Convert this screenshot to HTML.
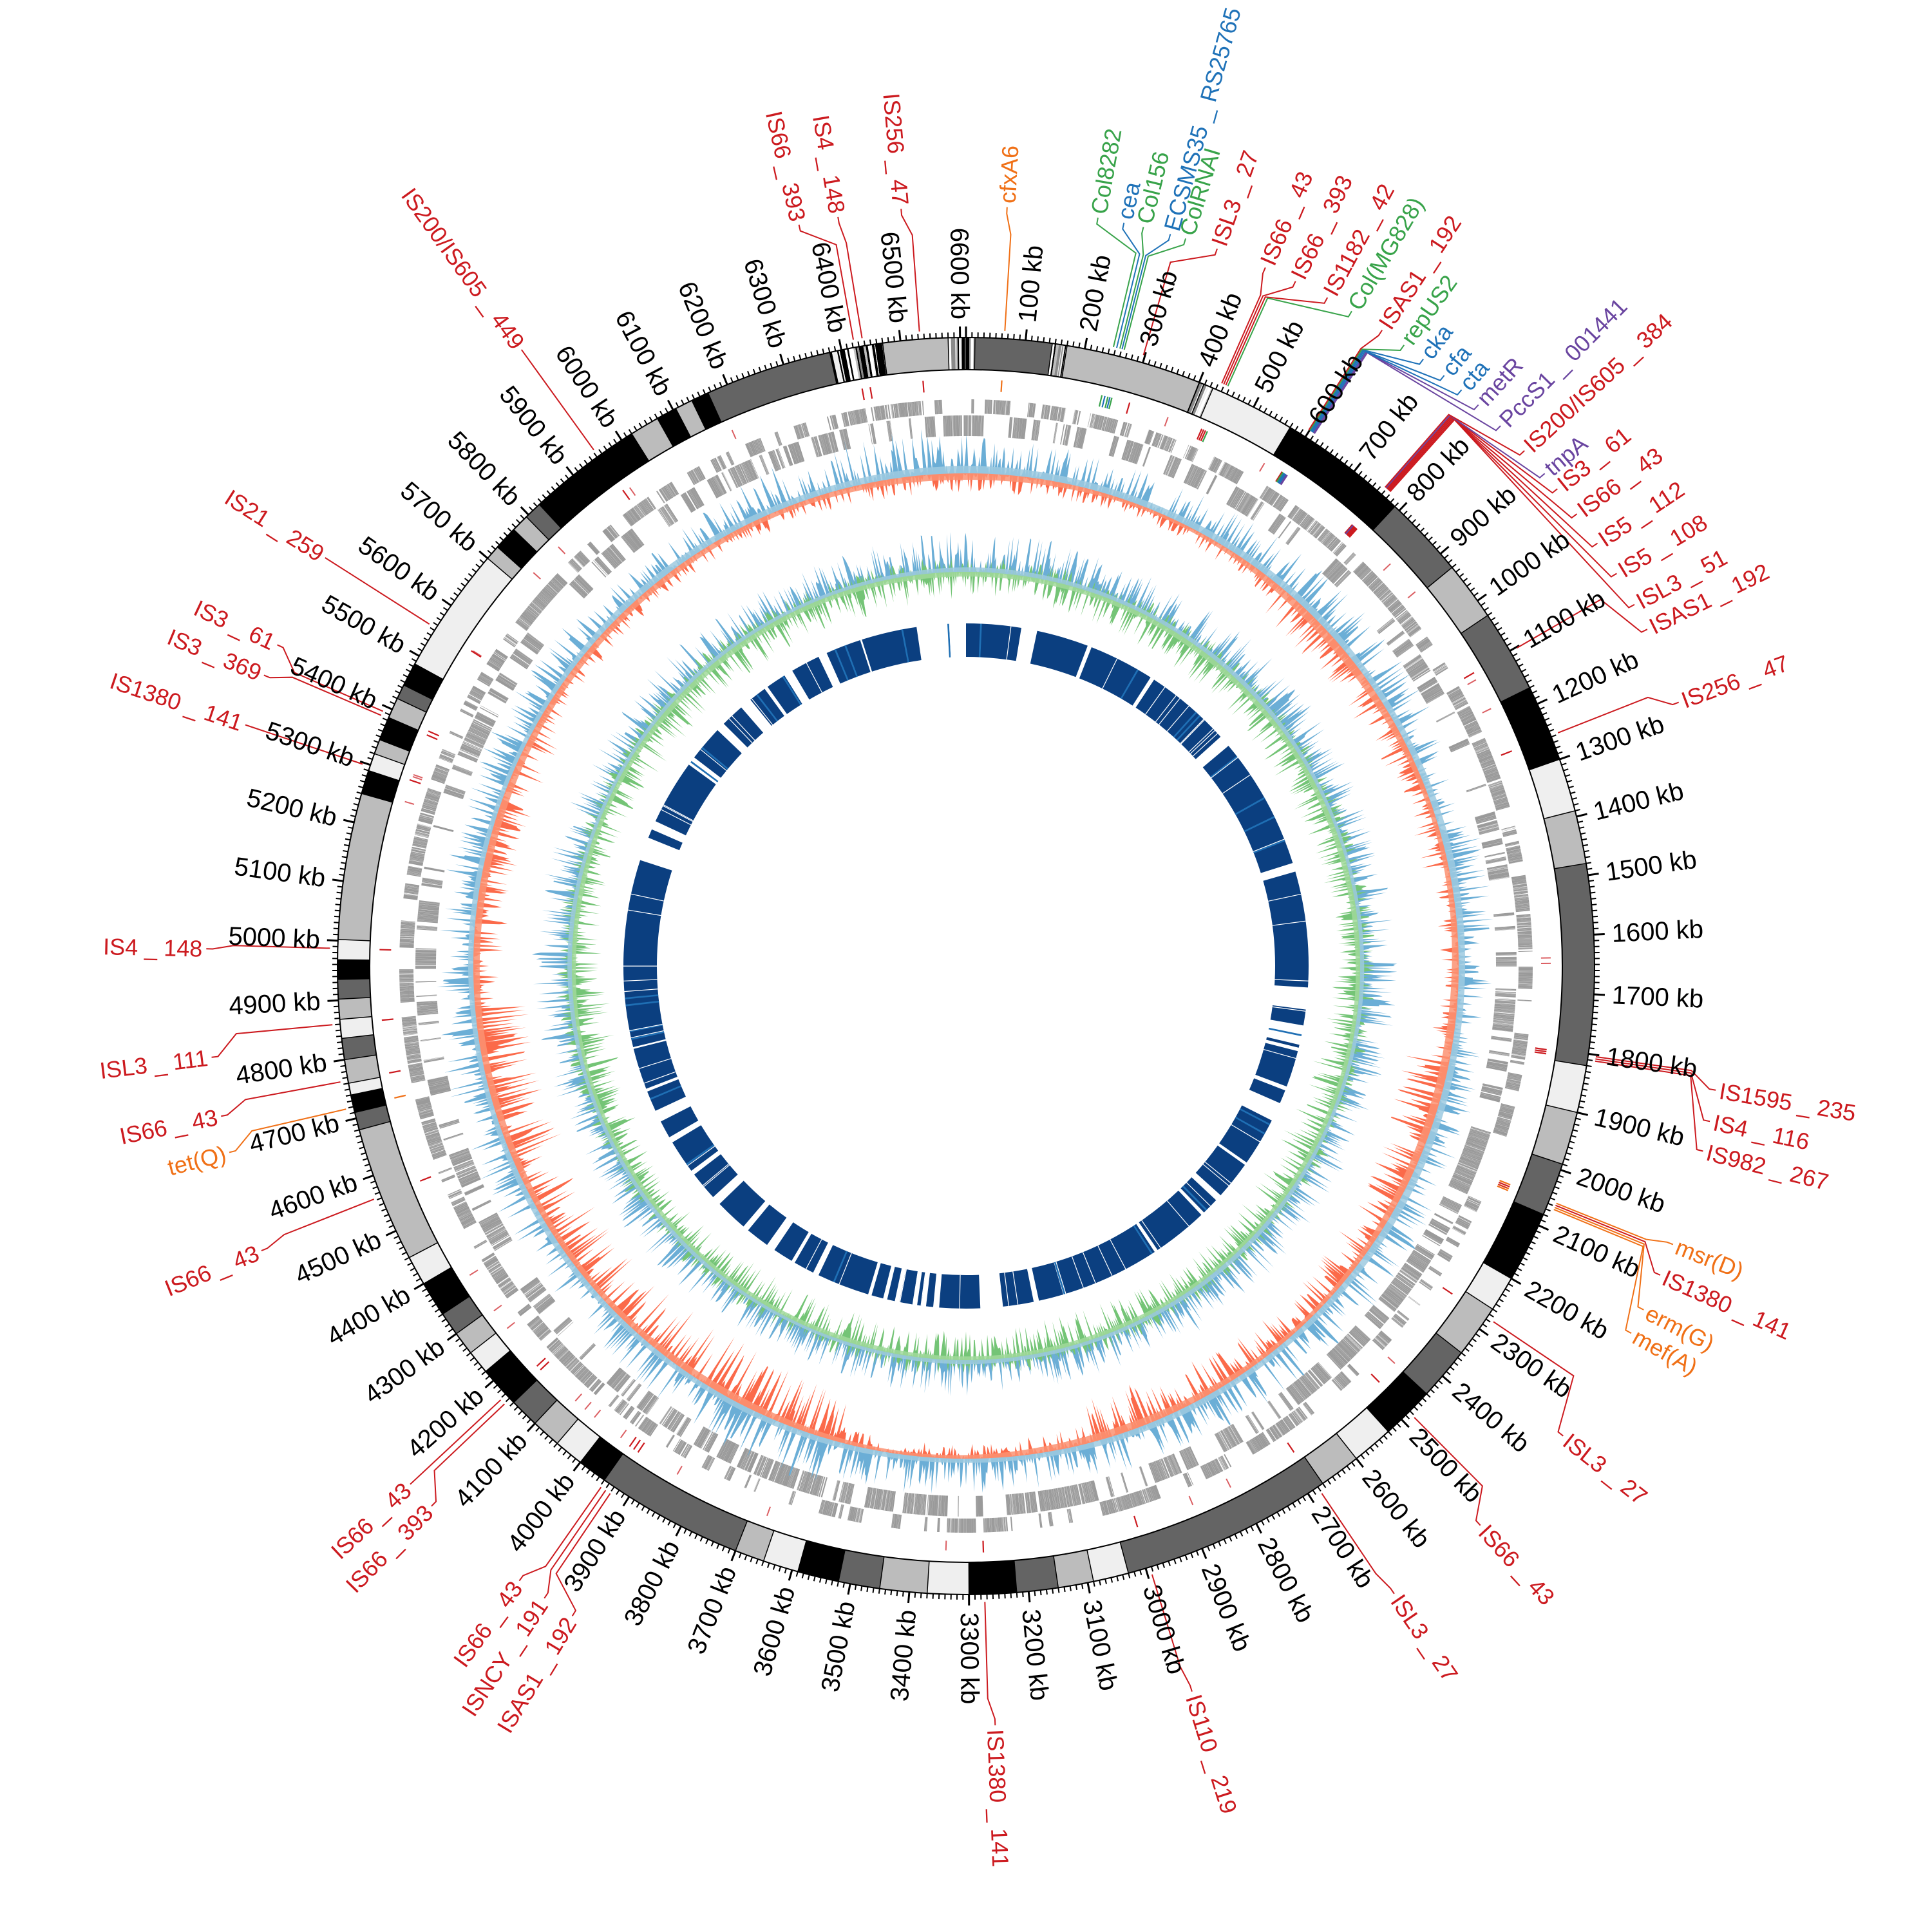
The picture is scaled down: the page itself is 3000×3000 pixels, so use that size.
<!DOCTYPE html>
<html><head><meta charset="utf-8">
<style>
html,body{margin:0;padding:0;background:#fff;}
svg{display:block;}
text{font-family:"Liberation Sans","DejaVu Sans",sans-serif;dominant-baseline:central;}
#ticks text{font-size:40px;fill:#000;}
#feat text{font-size:36px;}
</style></head>
<body>
<svg id="svg" xmlns="http://www.w3.org/2000/svg" width="3000" height="3000" viewBox="0 0 3000 3000">
<rect width="3000" height="3000" fill="#fff"/>
<g id="gfx"></g>
<g id="ticks">
<text>100 kb</text><text>200 kb</text><text>300 kb</text><text>400 kb</text><text>500 kb</text><text>600 kb</text><text>700 kb</text><text>800 kb</text><text>900 kb</text><text>1000 kb</text>
<text>1100 kb</text><text>1200 kb</text><text>1300 kb</text><text>1400 kb</text><text>1500 kb</text><text>1600 kb</text><text>1700 kb</text><text>1800 kb</text><text>1900 kb</text><text>2000 kb</text>
<text>2100 kb</text><text>2200 kb</text><text>2300 kb</text><text>2400 kb</text><text>2500 kb</text><text>2600 kb</text><text>2700 kb</text><text>2800 kb</text><text>2900 kb</text><text>3000 kb</text>
<text>3100 kb</text><text>3200 kb</text><text>3300 kb</text><text>3400 kb</text><text>3500 kb</text><text>3600 kb</text><text>3700 kb</text><text>3800 kb</text><text>3900 kb</text><text>4000 kb</text>
<text>4100 kb</text><text>4200 kb</text><text>4300 kb</text><text>4400 kb</text><text>4500 kb</text><text>4600 kb</text><text>4700 kb</text><text>4800 kb</text><text>4900 kb</text><text>5000 kb</text>
<text>5100 kb</text><text>5200 kb</text><text>5300 kb</text><text>5400 kb</text><text>5500 kb</text><text>5600 kb</text><text>5700 kb</text><text>5800 kb</text><text>5900 kb</text><text>6000 kb</text>
<text>6100 kb</text><text>6200 kb</text><text>6300 kb</text><text>6400 kb</text><text>6500 kb</text><text>6600 kb</text>
</g>
<g id="feat">
<text>cfxA6</text>
<text>IS256 _ 47</text>
<text>IS4 _ 148</text>
<text>IS66 _ 393</text>
<text>IS200/IS605 _ 449</text>
<text>IS21 _ 259</text>
<text>IS3 _ 61</text>
<text>IS3 _ 369</text>
<text>IS1380 _ 141</text>
<text>IS4 _ 148</text>
<text>ISL3 _ 111</text>
<text>IS66 _ 43</text>
<text>tet(Q)</text>
<text>IS66 _ 43</text>
<text>IS66 _ 43</text>
<text>IS66 _ 393</text>
<text>IS66 _ 43</text>
<text>ISNCY _ 191</text>
<text>ISAS1 _ 192</text>
<text>IS1380 _ 141</text>
<text>IS110 _ 219</text>
<text>ISL3 _ 27</text>
<text>IS66 _ 43</text>
<text>ISL3 _ 27</text>
<text>mef(A)</text>
<text>erm(G)</text>
<text>IS1380 _ 141</text>
<text>msr(D)</text>
<text>IS982 _ 267</text>
<text>IS4 _ 116</text>
<text>IS1595 _ 235</text>
<text>IS256 _ 47</text>
<text>ISAS1 _ 192</text>
<text>ISL3 _ 51</text>
<text>IS5 _ 108</text>
<text>IS5 _ 112</text>
<text>IS66 _ 43</text>
<text>IS3 _ 61</text>
<text>tnpA</text>
<text>IS200/IS605 _ 384</text>
<text>PccS1 _ 001441</text>
<text>metR</text>
<text>cta</text>
<text>cfa</text>
<text>cka</text>
<text>repUS2</text>
<text>ISAS1 _ 192</text>
<text>Col(MG828)</text>
<text>IS1182 _ 42</text>
<text>IS66 _ 393</text>
<text>IS66 _ 43</text>
<text>ISL3 _ 27</text>
<text>ColRNAI</text>
<text>ECSMS35 _ RS25765</text>
<text>Col156</text>
<text>cea</text>
<text>Col8282</text>
</g>
</svg>
<script>
(function(){
const NS='http://www.w3.org/2000/svg', C=1500, G=6610, K=360/G;
function P(t,r){const a=t*Math.PI/180;return (C+r*Math.sin(a)).toFixed(2)+','+(C-r*Math.cos(a)).toFixed(2);}
function arc(t1,t2,r1,r2){const l=(t2-t1)>180?1:0;return 'M'+P(t1,r2)+'A'+r2+','+r2+' 0 '+l+' 1 '+P(t2,r2)+'L'+P(t2,r1)+'A'+r1+','+r1+' 0 '+l+' 0 '+P(t1,r1)+'Z';}
function rng(s){return function(){s|=0;s=s+0x6D2B79F5|0;let t=Math.imul(s^s>>>15,1|s);t=t+Math.imul(t^t>>>7,61|t)^t;return((t^t>>>14)>>>0)/4294967296;}}
const R=rng(20240611);
const g=document.getElementById('gfx');
function add(tag,at,par){const e=document.createElementNS(NS,tag);for(const k in at)e.setAttribute(k,at[k]);(par||g).appendChild(e);return e;}

/* ---------- ideogram ---------- */
const bands=[[0,15,'S'],[15,145,'D'],[145,170,'S'],[170,400,'L'],[400,425,'S'],[425,570,'E'],[570,790,'B'],[790,930,'D'],[930,1030,'L'],[1030,1170,'D'],[1170,1300,'B'],[1300,1390,'E'],[1390,1480,'L'],[1480,1820,'D'],[1820,1900,'E'],[1900,1990,'L'],[1990,2080,'D'],[2080,2200,'B'],[2200,2260,'E'],[2260,2350,'L'],[2350,2440,'D'],[2440,2530,'B'],[2530,2600,'E'],[2600,2670,'L'],[2670,3030,'D'],[3030,3090,'E'],[3090,3150,'L'],[3150,3220,'D'],[3220,3300,'B'],[3300,3370,'E'],[3370,3450,'L'],[3450,3520,'D'],[3520,3590,'B'],[3590,3650,'E'],[3650,3700,'L'],[3700,3950,'D'],[3950,4000,'B'],[4000,4050,'E'],[4050,4100,'L'],[4100,4150,'D'],[4150,4220,'B'],[4220,4260,'E'],[4260,4300,'L'],[4300,4340,'D'],[4340,4400,'B'],[4400,4450,'E'],[4450,4680,'L'],[4680,4710,'D'],[4710,4740,'B'],[4740,4760,'E'],[4760,4800,'L'],[4800,4836,'D'],[4836,4868,'E'],[4868,4902,'L'],[4902,4935,'D'],[4935,4968,'B'],[4968,5002,'E'],[5002,5250,'L'],[5250,5290,'B'],[5290,5320,'E'],[5320,5345,'L'],[5345,5385,'B'],[5385,5420,'L'],[5420,5445,'D'],[5445,5485,'B'],[5485,5700,'E'],[5700,5725,'L'],[5725,5765,'B'],[5765,5795,'L'],[5795,5825,'D'],[5825,6020,'B'],[6020,6070,'L'],[6070,6105,'B'],[6105,6135,'L'],[6135,6165,'B'],[6165,6380,'D'],[6380,6470,'S'],[6470,6580,'L'],[6580,6610,'S']];
const col={B:'#000',D:'#646464',L:'#bcbcbc',E:'#efefef',W:'#ffffff',M:'#8a8a8a'};
const paths={B:'',D:'',L:'',E:'',W:'',M:''};
let bnd='';
const RI=926, RO=976;
bands.forEach(b=>{
  if(b[2]==='S'){
    let p=b[0];const cs=['B','W','M','B','L','B','E'];
    while(p<b[1]){const w=Math.min(b[1]-p,1+R()*4);const c=cs[Math.floor(R()*cs.length)];paths[c]+=arc(p*K,(p+w)*K,RI,RO);p+=w;}
  } else paths[b[2]]+=arc(b[0]*K,b[1]*K,RI,RO);
  bnd+='M'+P(b[0]*K,RI)+'L'+P(b[0]*K,RO);
});
for(const c in paths) if(paths[c]) add('path',{d:paths[c],fill:col[c]});
add('path',{d:bnd,stroke:'#000','stroke-width':1.5,fill:'none'});
add('circle',{cx:C,cy:C,r:RI,fill:'none',stroke:'#000','stroke-width':2});
add('circle',{cx:C,cy:C,r:RO,fill:'none',stroke:'#000','stroke-width':2});
let tk='',tM='';
for(let k=0;k<G;k+=10){const t=k*K; if(k%100===0) tM+='M'+P(t,RO)+'L'+P(t,RO+17); else tk+='M'+P(t,RO)+'L'+P(t,RO+8);}
add('path',{d:tk,stroke:'#000','stroke-width':2,fill:'none'});
add('path',{d:tM,stroke:'#000','stroke-width':3,fill:'none'});

/* ---------- gene rings ---------- */
let gA='',gB='',wl='';
let p=0;
while(p<G){
  const run=3+R()*30, strand=R()<0.5?0:1, end=Math.min(G,p+run);
  let q=p;
  while(q<end){
    const len=0.5+R()*2.5;const e2=Math.min(end,q+len);
    if(R()<0.96){ if(strand) gA+=arc(q*K,e2*K,858,880); else gB+=arc(q*K,e2*K,823,855); }
    q=e2+0.02+R()*0.25;
  }
  if(R()<0.3){ const o=Math.min(G,end+2+R()*6); let q2=end; while(q2<o){const e3=Math.min(o,q2+0.5+R()*2); if(strand) gB+=arc(q2*K,e3*K,823,855); else gA+=arc(q2*K,e3*K,858,880); q2=e3+0.05+R()*0.3;} }
  p=end+R()*1.2;
}
add('path',{d:gA,fill:'#9a9a9a'});
add('path',{d:gB,fill:'#9a9a9a'});
for(let i=0;i<500;i++){const t=R()*360;const ro=R()<0.5;wl+='M'+P(t,ro?858:823)+'L'+P(t,ro?880:855);}
add('path',{d:wl,stroke:'#fff','stroke-width':0.8,fill:'none',opacity:0.7});

/* ---------- histograms ---------- */
function smooth(seed,n){const r=rng(seed);const ph=[],fr=[],am=[];for(let i=0;i<n;i++){ph.push(r()*6.28);fr.push(1+Math.floor(r()*9));am.push(0.3+r()*0.7);}
  return t=>{let s=0,a=0;for(let i=0;i<n;i++){s+=am[i]*Math.sin(fr[i]*t*Math.PI/180+ph[i]);a+=am[i];}return 0.5+0.5*s/a;};}
function band(base,vals,sign,step){
  let d='M'+P(0,base);
  for(let i=0;i<vals.length;i++) d+='L'+P(i*step,base+sign*vals[i]);
  d+='L'+P(360,base)+'A'+base+','+base+' 0 0 0 '+P(180,base)+'A'+base+','+base+' 0 0 0 '+P(0,base)+'Z';
  return d;
}
const step=0.15, N=Math.round(360/step)+1;
function redEnv(t){let e=35; if(t>195&&t<265)e=95; else if(t>100&&t<165)e=70; else if(t>265&&t<300)e=55; else if(t>40&&t<80)e=55; return e;}
const sA=smooth(11,6), sB=smooth(23,6), sC=smooth(37,6), sD=smooth(51,6);
let bS=[],bL=[],rS=[],rL=[];
for(let i=0;i<N;i++){const t=i*step;
  const eb=35+50*sA(t); bS.push(eb*Math.pow(R(),2.6));
  bL.push(2+14*sB(t));
  const er=redEnv(t)*(0.5+0.7*sC(t)); rS.push(er*Math.pow(R(),2.6));
  rL.push(2+14*sC(t));
}
const GB=765;
add('path',{d:band(GB,bS,1,step),fill:'#6baed6'});
add('path',{d:band(GB,rS,-1,step),fill:'#fb6a4a'});
add('path',{d:band(GB,bL,1,step),fill:'#9ecae1',opacity:0.85});
add('path',{d:band(GB,rL,-1,step),fill:'#fc9272',opacity:0.85});
let b2=[],g2=[],g2o=[],b2l=[],g2l=[];
for(let i=0;i<N;i++){const t=i*step;
  b2.push((35+45*sD(t))*Math.pow(R(),2.4));
  g2.push((30+35*sA(t+90))*Math.pow(R(),2.6));
  g2o.push(25*Math.pow(R(),3));
  b2l.push(2+8*sD(t)); g2l.push(2+9*sB(t+40));
}
const GB2=612;
add('path',{d:band(GB2,b2,1,step),fill:'#6baed6'});
add('path',{d:band(GB2,g2o,1,step),fill:'#74c476'});
add('path',{d:band(GB2,g2,-1,step),fill:'#74c476'});
add('path',{d:band(GB2,b2l,1,step),fill:'#9ecae1',opacity:0.85});
add('path',{d:band(GB2,g2l,-1,step),fill:'#a1d99b',opacity:0.85});

/* ---------- inner blocks ---------- */
const gaps=[[351.7,358.4],[9.3,12],[20.8,21.5],[32.6,33.3],[48,50],[72.5,74],[93.6,97.3],[100,103.3],[103.8,104.4],[110.6,111.3],[113.6,116.8],[125,125.5],[132,133],[136,136.6],[146,146.5],[163,163.5],[167.7,168.6],[173.8,177.6],[184.5,185.5],[186.7,187.5],[188.2,189],[191.2,192],[193.3,194],[196,196.6],[205.5,206.5],[210,210.6],[214,215.5],[219.5,220.5],[226,227.5],[232.5,233.3],[239,240],[243,245],[248.5,249],[256,256.3],[288,292],[293.5,295],[306,307.5],[313.5,315],[319,321],[324,324.6],[328,329.5],[334.5,336],[342,342.3]];
gaps.sort((a,b)=>a[0]-b[0]);
let bd='',cur=0;
gaps.forEach(gp=>{if(gp[0]>cur) bd+=arc(cur,gp[0],480,532); cur=Math.max(cur,gp[1]);});
if(cur<351.7) bd+=arc(cur,351.7,480,532);
add('path',{d:bd,fill:'#0b3f80'});
let wl2='',lb='';
for(let i=0;i<70;i++){const t=R()*360;wl2+='M'+P(t,480)+'L'+P(t,532);}
for(let i=0;i<30;i++){const t=R()*360;lb+=arc(t,t+0.3,480,532);}
add('path',{d:lb,fill:'#1f6fb4'});
add('path',{d:wl2,stroke:'#fff','stroke-width':1.2,fill:'none'});

/* ---------- tick labels ---------- */
function place(t,th,r){
  if(th<180){t.setAttribute('transform','rotate('+th+',1500,1500) translate(1500,'+(1500-r)+') rotate(-90)');t.setAttribute('text-anchor','start');}
  else {t.setAttribute('transform','rotate('+th+',1500,1500) translate(1500,'+(1500-r)+') rotate(90)');t.setAttribute('text-anchor','end');}
}
document.querySelectorAll('#ticks text').forEach(t=>{place(t,parseInt(t.textContent)*K,1004);});

/* ---------- features ---------- */
const RD='#cc1a1f',OR='#f07016',GR='#38a34a',BL='#1f72b8',PU='#6a45a0';
const F=[[OR,3.5,3.1],[RD,355.8,355.1],[RD,350.6,350.3],[RD,349.8,347.3],[RD,324.2,324.2],[RD,302.5,302.5],[RD,293.6,295],[RD,293.2,292.5],[RD,288.5,288.5],[RD,271.6,271.3],[RD,264.7,263.1],[RD,259.5,258.6],[OR,257,255.8],[RD,248.5,248],[RD,227,227],[RD,226.5,224.7],[RD,215,216],[RD,214.5,213.7],[RD,214,211.2],[RD,178.3,177.8],[RD,163,162.7],[RD,146,145.7],[RD,135.2,137.4],[RD,124,128.2],
[OR,112.5,118.9],[OR,112.3,116.9],[RD,112.1,114],[OR,111.9,111.5],[RD,98.6,104.1],[RD,98.4,101.8],[RD,98.2,99.4],[RD,68.5,69.7],[RD,60,63.7],
[RD,41.8,61.6],[RD,41.7,58.9],[RD,41.6,56.2],[RD,41.5,53.5],[RD,41.4,51.1],[PU,41.3,49.6],[RD,41.2,47.3],
[PU,33.2,44.7],[PU,33.1,42.4],[BL,33,40.7],[BL,32.9,39],[BL,32.8,37],[GR,32.7,35.2],[RD,32.6,33.2],
[GR,24.3,30.5],[RD,24.1,28.4],[RD,23.9,25.7],[RD,23.7,23.2],[RD,16.2,19.3],[GR,14.4,16.8],[BL,14.2,15.6],[GR,14.0,13.5],[BL,13.7,12],[GR,13.4,10]];
const ft=document.querySelectorAll('#feat text');
let dash={};
F.forEach((f,i)=>{
  const t=ft[i]; if(!t) return;
  t.setAttribute('fill',f[0]);
  if(t.textContent.indexOf('ECSMS35')===0) t.setAttribute('font-size','44');
  place(t,f[2],1186);
  const d='M'+P(f[1],988)+'L'+P(f[1],1138)+'L'+P(f[2],1170)+'L'+P(f[2],1180);
  add('path',{d:d,fill:'none',stroke:f[0],'stroke-width':2});
  dash[f[0]]=(dash[f[0]]||'')+'M'+P(f[1],893)+'L'+P(f[1],911);
});
for(const c in dash) add('path',{d:dash[c],stroke:c,'stroke-width':2.2,fill:'none'});
let rd='';
for(let i=0;i<30;i++){const t=R()*360;rd+='M'+P(t,893)+'L'+P(t,908);}
add('path',{d:rd,stroke:'#cc1a1f','stroke-width':2,fill:'none',opacity:0.7});
})();
</script>
</body></html>
